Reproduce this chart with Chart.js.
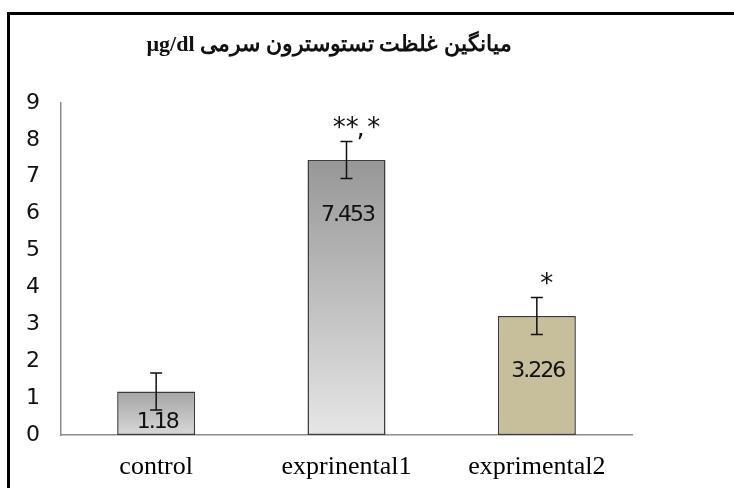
<!DOCTYPE html>
<html>
<head>
<meta charset="utf-8">
<script src="https://cdn.jsdelivr.net/npm/chart.js@4"></script>
<style>
  html, body { margin: 0; padding: 0; background: #fff; }
  #wrap { width: 734px; height: 488px; }
</style>
</head>
<body>
<div id="wrap"><canvas id="chart"></canvas></div>
<script>
const titleText = 'میانگین غلظت تستوسترون سرمی µg/dl';
const categories = ['control', 'exprinental1', 'exprimental2'];
const means = [1.18, 7.453, 3.226];
const errors = [0.5, 0.5, 0.5];
const valueLabels = ['1.18', '7.453', '3.226'];
const marks = ['', '** *', '*'];
const yTicks = [0, 1, 2, 3, 4, 5, 6, 7, 8, 9];

const fills = [
  ['#a4a4a4', '#d8d8d8'],
  ['#979797', '#e6e6e6'],
  ['#c7bf9c', '#c7bf9c']
];

function barFill(ctx) {
  const chart = ctx.chart;
  const i = ctx.dataIndex;
  if (!chart.chartArea || i == null) return fills[i || 0][0];
  const y = chart.scales.y;
  const top = y.getPixelForValue(means[i]);
  const bottom = y.getPixelForValue(0);
  const g = chart.ctx.createLinearGradient(0, top, 0, bottom);
  g.addColorStop(0, fills[i][0]);
  g.addColorStop(1, fills[i][1]);
  return g;
}

const extras = {
  id: 'extras',
  afterDatasetsDraw(chart) {
    const { ctx, scales: { x, y } } = chart;
    ctx.save();

    // error bars
    ctx.strokeStyle = '#111';
    ctx.lineWidth = 1.5;
    means.forEach((m, i) => {
      const cx = x.getPixelForValue(i);
      const hi = y.getPixelForValue(m + errors[i]);
      const lo = y.getPixelForValue(m - errors[i]);
      ctx.beginPath();
      ctx.moveTo(cx, hi); ctx.lineTo(cx, lo);
      ctx.moveTo(cx - 6, hi); ctx.lineTo(cx + 6, hi);
      ctx.moveTo(cx - 6, lo); ctx.lineTo(cx + 6, lo);
      ctx.stroke();
    });

    // values inside bars
    ctx.fillStyle = '#111';
    ctx.font = '22px "DejaVu Sans"';
    ctx.letterSpacing = '-2px';
    ctx.textAlign = 'center';
    ctx.textBaseline = 'middle';
    means.forEach((m, i) => {
      const cx = x.getPixelForValue(i);
      const top = y.getPixelForValue(m);
      const base = y.getPixelForValue(0);
      ctx.fillText(valueLabels[i], cx + 1, Math.min(top + 55, base - 13));
    });
    ctx.letterSpacing = '0px';

    // significance marks
    ctx.font = '26px "DejaVu Sans"';
    ctx.textBaseline = 'middle';
    marks.forEach((s, i) => {
      if (!s) return;
      const cx = x.getPixelForValue(i);
      const hi = y.getPixelForValue(means[i] + errors[i]);
      ctx.fillText(s, cx + 10, hi - 12);
      if (i === 1) ctx.fillText('\u2019', cx + 14, hi + 5);
    });

    // title
    ctx.font = 'bold 22px "Liberation Serif"';
    ctx.direction = 'rtl';
    ctx.textAlign = 'center';
    ctx.fillText(titleText, 329, 45);
    ctx.direction = 'ltr';

    // frame
    ctx.fillStyle = '#000';
    ctx.fillRect(7, 12, 727, 3);
    ctx.fillRect(7, 12, 3, 476);
    ctx.restore();
  }
};

new Chart(document.getElementById('chart'), {
  type: 'bar',
  plugins: [extras],
  data: {
    labels: categories,
    datasets: [{
      data: means,
      backgroundColor: barFill,
      borderColor: '#3c3c3c',
      borderWidth: 1.5,
      borderSkipped: false,
      categoryPercentage: 1,
      barPercentage: 0.41
    }]
  },
  options: {
    responsive: true,
    maintainAspectRatio: false,
    animation: false,
    layout: { padding: { left: 26, top: 103, right: 102, bottom: 0 } },
    plugins: { legend: { display: false }, tooltip: { enabled: false }, title: { display: false } },
    scales: {
      x: {
        grid: { display: false, drawTicks: false },
        border: { color: '#8c8c8c', width: 1.5 },
        ticks: { color: '#000', font: { family: 'Liberation Serif', size: 26 }, padding: 17 },
        afterFit(s) { s.height = 53; }
      },
      y: {
        min: 0,
        max: 9,
        afterBuildTicks(s) { s.ticks = yTicks.map(v => ({ value: v })); },
        grid: { display: false, drawTicks: false },
        border: { color: '#8c8c8c', width: 1.5 },
        ticks: { color: '#111', font: { family: 'DejaVu Sans', size: 22 }, crossAlign: 'far', padding: 0 },
        afterFit(s) { s.width = 35; }
      }
    }
  }
});
</script>
</body>
</html>
